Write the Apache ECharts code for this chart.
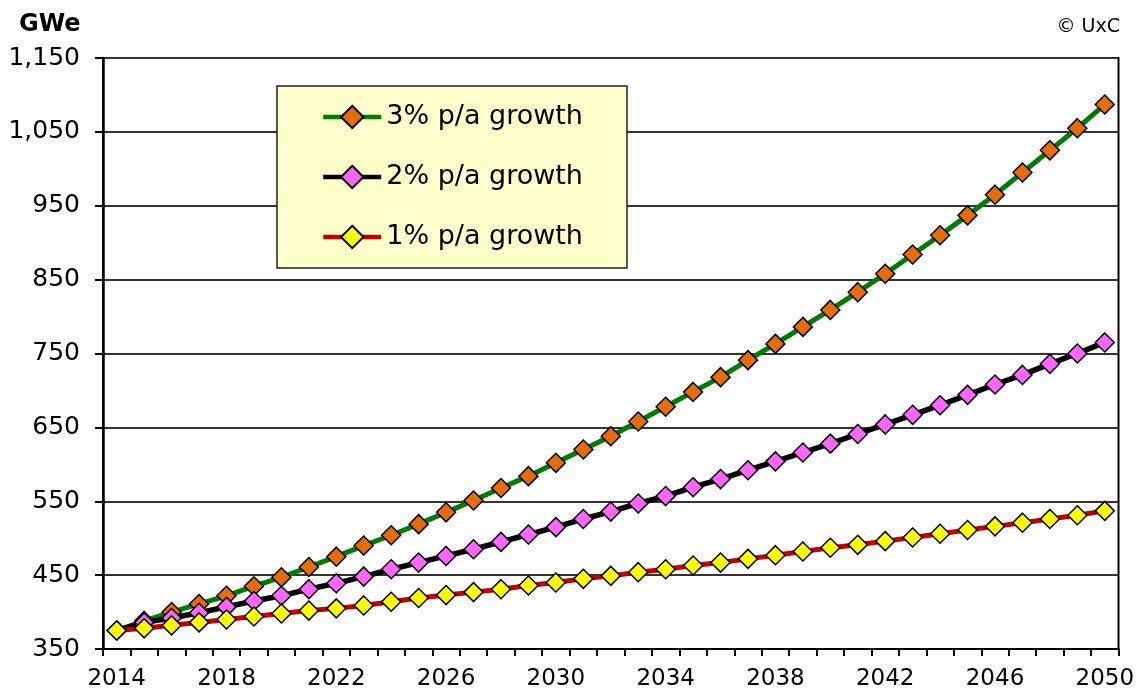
<!DOCTYPE html>
<html>
<head>
<meta charset="utf-8">
<title>Nuclear capacity growth scenarios</title>
<script src="https://cdn.jsdelivr.net/npm/echarts@6/dist/echarts.min.js"></script>
<style>
  html, body { margin: 0; padding: 0; background: #ffffff; }
  #chart { width: 1137px; height: 691px; }
</style>
</head>
<body>
<div id="chart"></div>
<script>
// Installed capacity (GWe) under three annual growth rates, 2014-2050
const years = [];
for (let y = 2014; y <= 2050; y++) years.push(String(y));

const growth3 = [375, 388, 400, 411, 422, 435, 447, 461, 475, 490,
                 504, 519, 535, 551, 568, 584, 602, 620, 638, 658,
                 678, 698, 718, 741, 763, 786, 809, 833, 858, 884,
                 910, 937, 965, 995, 1025, 1055, 1087];

const growth2 = [375, 386, 392, 399, 407, 415, 422, 431, 439, 448,
                 458, 467, 476, 485, 495, 505, 515, 526, 536, 547,
                 557, 569, 580, 592, 604, 616, 628, 641, 654, 667,
                 680, 694, 708, 721, 736, 750, 765];

const growth1 = [375, 378, 382, 386, 390, 394, 398, 402, 405, 409,
                 414, 419, 423, 427, 431, 436, 440, 445, 449, 454,
                 458, 463, 467, 472, 477, 482, 487, 491, 496, 501,
                 506, 511, 516, 521, 526, 531, 537];

const seriesNames = ['3% p/a growth', '2% p/a growth', '1% p/a growth'];

const FONT = 'DejaVu Sans';

function makeSeries(name, data, lineColor, fillColor, lineWidth) {
  return {
    name: name,
    type: 'line',
    data: data,
    symbol: 'diamond',
    symbolSize: 19,
    showAllSymbol: true,
    lineStyle: { color: lineColor, width: lineWidth },
    itemStyle: { color: fillColor, borderColor: '#000000', borderWidth: 1.5 },
    emphasis: { disabled: true }
  };
}

const chart = echarts.init(document.getElementById('chart'), null, { renderer: 'canvas' });

chart.setOption({
  animation: false,
  backgroundColor: '#ffffff',
  textStyle: { fontFamily: FONT },
  grid: {
    left: 103, right: 15, top: 58, bottom: 41,
    show: true, borderColor: '#000000', borderWidth: 2, backgroundColor: 'transparent'
  },
  title: [
    { text: 'GWe', left: 14, top: 8,
      textStyle: { fontFamily: FONT, fontSize: 24, fontWeight: 'bold', color: '#000' } },
    { text: '© UxC', right: 12, top: 13,
      textStyle: { fontFamily: FONT, fontSize: 19, fontWeight: 'normal', color: '#000' } }
  ],
  legend: {
    orient: 'vertical',
    left: 277, top: 86,
    data: seriesNames,
    backgroundColor: '#FFFFCC',
    borderColor: '#222222',
    borderWidth: 1.5,
    borderRadius: 0,
    padding: [16, 44, 16, 44],
    itemWidth: 58,
    itemHeight: 28,
    itemGap: 30,
    selectedMode: false,
    lineStyle: { width: 4.5 },
    textStyle: { fontFamily: FONT, fontSize: 27, color: '#000', lineHeight: 30 }
  },
  xAxis: {
    type: 'category',
    data: years,
    boundaryGap: true,
    axisLine: { show: true, lineStyle: { color: '#000', width: 2 } },
    axisTick: { show: true, interval: 0, length: 7, lineStyle: { color: '#000', width: 2 } },
    axisLabel: { interval: 3, margin: 19, fontFamily: FONT, fontSize: 23, color: '#000' },
    splitLine: { show: false }
  },
  yAxis: {
    type: 'value',
    min: 350, max: 1150, interval: 100,
    axisLine: { show: true, lineStyle: { color: '#000', width: 2.5 } },
    axisTick: { show: true, length: 8, lineStyle: { color: '#000', width: 2 } },
    axisLabel: {
      margin: 23, fontFamily: FONT, fontSize: 25, color: '#000',
      formatter: v => v.toLocaleString('en-US')
    },
    splitLine: { show: true, lineStyle: { color: '#333333', width: 2 } }
  },
  series: [
    makeSeries(seriesNames[0], growth3, '#007A00', '#E46C0A', 5),
    makeSeries(seriesNames[1], growth2, '#000000', '#FF66FF', 5.5),
    makeSeries(seriesNames[2], growth1, '#C00000', '#FFFF00', 5)
  ]
});
</script>
</body>
</html>
